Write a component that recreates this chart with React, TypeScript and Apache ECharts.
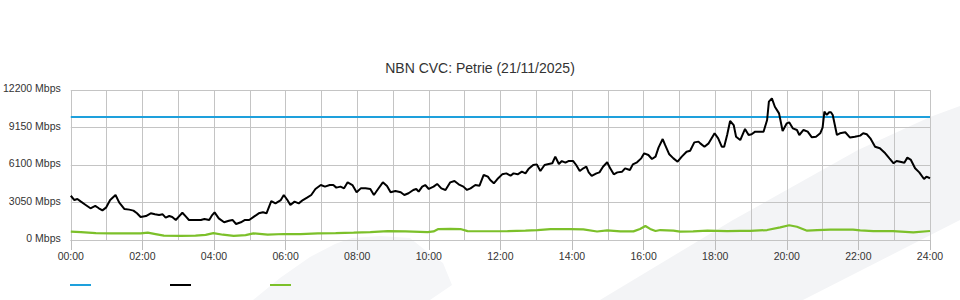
import React, { useEffect, useRef } from "react";
import * as echarts from "echarts";

// ---- data (minutes since midnight, Mbps) ----
const xTickLabels = ["00:00","02:00","04:00","06:00","08:00","10:00","12:00","14:00","16:00","18:00","20:00","22:00","24:00"];
const yTicks = [0, 3050, 6100, 9150, 12200];

const capacityTimes = [0, 1440];
const capacityValues = [10000, 10000];

const trafficTimes = [
  0,6,11,17,25,33,41,47,53,59,66,75,81,90,98,105,111,117,126,134,141,148,154,159,165,170,176,181,187,193,198,206,218,224,232,237,241,248,257,265,271,277,285,292,299,307,315,322,328,336,343,352,
  357,363,368,375,382,389,396,403,410,419,426,434,440,445,452,458,464,472,479,486,494,502,508,515,523,530,536,544,553,559,566,574,579,583,589,594,600,608,614,621,628,636,643,650,658,664,670,678,685,692,699,703,
  709,715,723,730,737,742,749,756,762,767,775,781,787,794,801,807,812,818,823,829,834,842,847,853,859,864,868,873,881,886,892,899,904,910,916,924,929,937,942,949,956,961,968,974,980,985,992,996,1003,1010,1017,1024,1032,1038,1045,1052,
  1055,1062,1069,1079,1085,1091,1095,1100,1105,1111,1115,1122,1130,1136,1141,1147,1152,1161,1167,1170,1175,1180,1187,1193,1200,1204,1210,1217,1221,1228,1235,1242,1249,1256,1260,1263,1267,1271,1274,1277,1284,1289,1298,1306,1314,1323,1328,1334,1340,1348,1356,1365,1372,1379,1384,1390,1397,1402,1408,1415,1422,1430,1434,1440
];
const trafficValues = [
  3600,3250,3330,3120,2850,2580,2770,2580,2410,2630,3250,3660,3060,2520,2470,2390,2170,1870,1950,2170,2090,2030,2090,1820,1950,1870,1630,1900,2220,1900,1630,1630,1630,1710,1630,2030,2250,1760,1440,1570,1630,1300,1440,1630,1630,1900,2170,2250,2170,3170,2980,3250,
  3660,3250,2850,3120,2980,3250,3440,3660,4150,4470,4340,4470,4470,4260,4340,4200,4690,4470,3880,4200,4200,4150,3660,4150,4690,4390,3880,3990,3880,3660,3800,4070,4150,3930,4340,4470,4150,4340,4560,4200,4070,4690,4800,4530,4340,4070,4200,4470,4420,5290,5150,4880,
  4610,4960,5340,5420,5230,5420,5340,5560,5420,5770,6100,6150,5610,6100,6180,6240,6780,6180,6420,6290,6420,6420,6100,5610,5830,5960,5500,5210,5420,5500,5960,6320,5830,5340,5500,5560,5830,5690,6150,6320,6640,7050,6910,6590,6780,7510,8210,7730,6970,6640,6370,6780,7180,7260,7940,8000,
  7860,7590,7860,8680,8270,7590,7590,8540,9680,9350,8400,8130,9030,8540,8600,8810,8810,8810,9760,11250,11520,10840,10300,8870,9490,9570,9080,8950,8540,8950,8810,8350,8400,8680,9140,10440,10170,10390,10390,10170,8540,8680,8760,8330,8400,8490,8680,8600,8270,7590,7460,7050,6640,6240,6420,6370,6290,6700,6510,5830,5500,4960,5150,5020
];

const otherTimes = [
  0,17,42,67,100,117,129,142,156,184,209,226,239,255,273,293,306,330,357,385,414,444,474,502,531,561,598,608,616,636,653,665,698,732,762,782,804,837,859,882,899,921,943,954,963,971,980,988,1010,1021,1043,1067,1100,1122,1139,1167,1189,1204,1217,1234,1251,1273,1289,1311,1323,1345,1378,1412,1440
];
const otherValues = [
  680,640,560,540,540,540,600,480,350,330,360,420,560,430,340,400,540,440,490,470,540,560,600,640,720,700,640,700,890,900,890,720,710,720,760,810,890,890,870,690,780,700,700,900,1140,900,730,810,760,680,700,760,720,740,740,810,1030,1200,1080,760,810,840,850,850,780,720,720,620,730
];

const seriesColors = ["#1ea0dc", "#000000", "#7cc02a"];

const pairs = (t: number[], v: number[]) => t.map((x, i) => [x, v[i]]);

export default function App() {
  const ref = useRef<HTMLDivElement>(null);
  useEffect(() => {
    document.body.style.margin = "0";
    const chart = echarts.init(ref.current!, undefined, { renderer: "svg" });
    const font = "'Liberation Sans', Arial, sans-serif";
    chart.setOption({
      animation: false,
      backgroundColor: "#ffffff",
      title: {
        text: "NBN CVC: Petrie (21/11/2025)",
        left: "center",
        top: 56,
        textStyle: { fontFamily: font, fontSize: 14, fontWeight: "normal", color: "#333" },
      },
      grid: { left: 70, right: 30, top: 90, bottom: 60 },
      xAxis: {
        type: "value",
        min: 0,
        max: 1440,
        interval: 120,
        axisLine: { show: true, lineStyle: { color: "#c4c4c4", width: 1 } },
        axisTick: { show: true, length: 10, lineStyle: { color: "#bdbdbd" } },
        axisLabel: {
          margin: 10,
          fontFamily: font,
          fontSize: 10.5,
          color: "#333",
          formatter: (v: number) => xTickLabels[Math.round(v / 120)] ?? "",
        },
        splitLine: { show: true, lineStyle: { color: "#c4c4c4", width: 1 } },
        minorTick: { show: false, splitNumber: 2 },
        minorSplitLine: { show: true, lineStyle: { color: "#c4c4c4", width: 1 } },
      },
      yAxis: {
        type: "value",
        min: yTicks[0],
        max: yTicks[yTicks.length - 1],
        interval: yTicks[1] - yTicks[0],
        axisLine: { show: false },
        axisTick: { show: false },
        axisLabel: {
          margin: 10,
          fontFamily: font,
          fontSize: 10.5,
          color: "#333",
          verticalAlign: "bottom",
          lineHeight: 4,
          formatter: (v: number) => `${v} Mbps`,
        },
        splitLine: { show: true, lineStyle: { color: "#c4c4c4", width: 1 } },
      },
      graphic: [
        {
          type: "polygon",
          z: -10,
          silent: true,
          shape: { points: [[600, 300], [733, 220], [858, 150], [930, 117], [960, 106], [960, 220], [803, 300]] },
          style: { fill: "#f3f4f6" },
        },
        {
          type: "polygon",
          z: -10,
          silent: true,
          shape: {
            points: [[253, 300], [280, 278], [310, 257], [335, 244], [352, 238], [380, 236], [410, 238], [425, 250], [443, 263], [452, 285], [430, 300]],
          },
          style: { fill: "#f5f6f8" },
        },
        { type: "line", shape: { x1: 70, y1: 285, x2: 91, y2: 285 }, style: { stroke: seriesColors[0], lineWidth: 2 } },
        { type: "line", shape: { x1: 170, y1: 285, x2: 191, y2: 285 }, style: { stroke: seriesColors[1], lineWidth: 2 } },
        { type: "line", shape: { x1: 270, y1: 285, x2: 291, y2: 285 }, style: { stroke: seriesColors[2], lineWidth: 2 } },
      ],
      series: [
        {
          type: "line",
          data: pairs(capacityTimes, capacityValues),
          showSymbol: false,
          lineStyle: { color: seriesColors[0], width: 2 },
          itemStyle: { color: seriesColors[0] },
        },
        {
          type: "line",
          data: pairs(trafficTimes, trafficValues),
          showSymbol: false,
          lineStyle: { color: seriesColors[1], width: 2 },
          itemStyle: { color: seriesColors[1] },
        },
        {
          type: "line",
          data: pairs(otherTimes, otherValues),
          showSymbol: false,
          lineStyle: { color: seriesColors[2], width: 2.2 },
          itemStyle: { color: seriesColors[2] },
        },
      ],
    });
    return () => chart.dispose();
  }, []);
  return <div ref={ref} style={{ position: "absolute", left: 0, top: 0, width: 960, height: 300 }} />;
}
